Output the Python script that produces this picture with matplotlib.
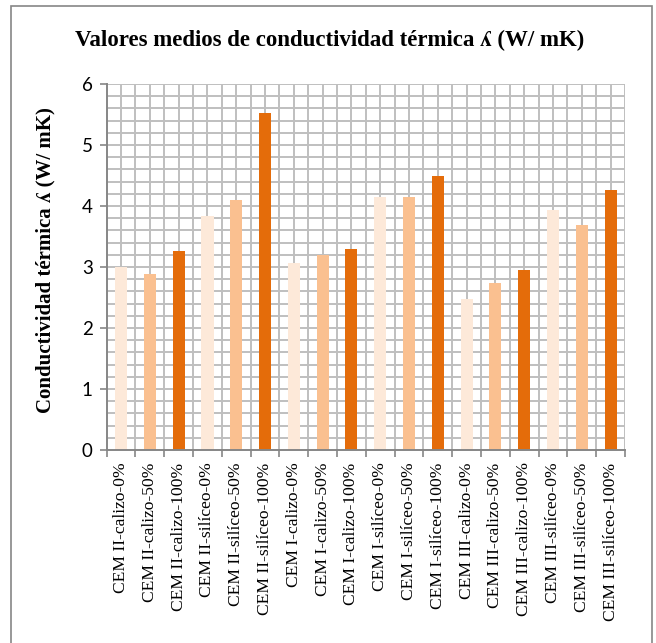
import matplotlib
matplotlib.use("Agg")
import matplotlib.pyplot as plt
from matplotlib.patches import Rectangle
import numpy as np

categories = [
    "CEM II-calizo-0%", "CEM II-calizo-50%", "CEM II-calizo-100%",
    "CEM II-silíceo-0%", "CEM II-silíceo-50%", "CEM II-silíceo-100%",
    "CEM I-calizo-0%", "CEM I-calizo-50%", "CEM I-calizo-100%",
    "CEM I-silíceo-0%", "CEM I-silíceo-50%", "CEM I-silíceo-100%",
    "CEM III-calizo-0%", "CEM III-calizo-50%", "CEM III-calizo-100%",
    "CEM III-silíceo-0%", "CEM III-silíceo-50%", "CEM III-silíceo-100%",
]
values = [3.00, 2.89, 3.26, 3.84, 4.10, 5.53,
          3.07, 3.20, 3.30, 4.15, 4.15, 4.49,
          2.48, 2.74, 2.95, 3.93, 3.69, 4.26]
palette = ["#FDE9D9", "#FAC090", "#E46C0A"]
yticks = [0, 1, 2, 3, 4, 5, 6]

serif = ["Liberation Serif", "DejaVu Serif"]

fig = plt.figure(figsize=(6.56, 6.43), dpi=100)
W, H = 656, 643
ax = fig.add_axes([106.7 / W, 1 - 450 / H, (625 - 106.7) / W, (450 - 84) / H])

x = np.arange(len(categories))
colors = [palette[i % 3] for i in range(len(categories))]
ax.bar(x, values, width=0.42, color=colors, zorder=3)

ax.set_xlim(-0.5, len(categories) - 0.5)
ax.set_ylim(0, 6)
ax.set_yticks(yticks)
ax.set_yticklabels([str(t) for t in yticks], fontfamily="Lato", fontsize=13.5)
ax.set_yticks(np.arange(0, 6.01, 0.2), minor=True)
ax.set_xticks(np.arange(-0.5, len(categories), 1.0))
ax.set_xticklabels([])
ax.set_xticks(x, minor=True)
ax.set_xticklabels(categories, minor=True, rotation=90, fontfamily=serif,
                   fontsize=12.6, va="top")
ax.tick_params(axis="x", which="minor", length=0, pad=9)
ax.tick_params(axis="x", which="major", length=5, color="#868686", width=1.2)
ax.tick_params(axis="y", which="major", length=5, color="#868686", width=1.2, pad=5)
ax.tick_params(axis="y", which="minor", length=0)

# grid: horizontal every 0.2, vertical every half category
for yv in np.arange(0.2, 6.01, 0.2):
    ax.axhline(yv, color="#BFBFBF", lw=1.4, zorder=1)
for xv in np.arange(0, len(categories) + 0.01, 0.5) - 0.5:
    if xv > -0.5:
        ax.axvline(xv, color="#BFBFBF", lw=1.4, zorder=1)

for s in ["top", "right"]:
    ax.spines[s].set_visible(False)
for s in ["left", "bottom"]:
    ax.spines[s].set_color("#868686")
    ax.spines[s].set_linewidth(1.4)
    ax.spines[s].set_zorder(4)

ax.set_ylabel("Conductividad térmica ʎ (W/ mK)", fontfamily=serif,
              fontweight="bold", fontsize=15)
ax.yaxis.set_label_coords((55 - 106.7) / (625 - 106.7), (450 - 260) / 366)

fig.text(330 / W, 1 - 40 / H, "Valores medios de conductividad térmica ʎ (W/ mK)",
         ha="center", va="center", fontfamily=serif, fontweight="bold", fontsize=16.5)

# outer frame
fig.patches.append(Rectangle((11 / W, -0.01), (652 - 11) / W, 1 - 6 / H + 0.01,
                             transform=fig.transFigure, fill=False,
                             edgecolor="#868686", lw=1.2))

fig.savefig("out.png", dpi=100)
